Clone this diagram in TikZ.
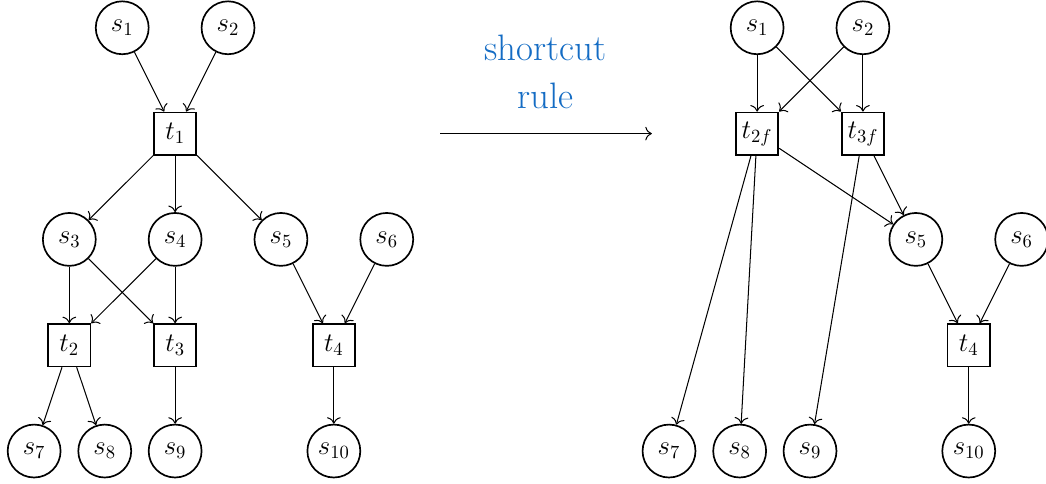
\documentclass[tikz,border=0pt]{standalone}
\usetikzlibrary{arrows.meta}
\definecolor{rulecol}{RGB}{20,108,196}
\begin{document}
\begin{tikzpicture}[
  place/.style={circle, draw, line width=0.9pt, minimum size=1cm, inner sep=0pt, font=\fontsize{14.4}{17}\selectfont},
  trans/.style={rectangle, draw, line width=0.9pt, minimum size=0.8cm, inner sep=1pt, font=\fontsize{14.4}{17}\selectfont},
  arc/.style={line width=0.55pt, -{Computer Modern Rightarrow[scale=1.25]}},
  rulelabel/.style={text=rulecol, align=center, inner sep=0pt, font=\fontsize{19.8}{25.6}\selectfont}
]
\useasboundingbox (0,0) rectangle (19.77,-9.13);

% ---- net before the rule ----
\node[place] (s1) at (2.31,-0.525) {$s_1$};
\node[place] (s2) at (4.31,-0.525) {$s_2$};
\node[trans] (t1) at (3.31,-2.525) {$t_1$};
\node[place] (s3) at (1.31,-4.525) {$s_3$};
\node[place] (s4) at (3.31,-4.525) {$s_4$};
\node[place] (s5) at (5.31,-4.525) {$s_5$};
\node[place] (s6) at (7.31,-4.525) {$s_6$};
\node[trans] (t2) at (1.31,-6.525) {$t_2$};
\node[trans] (t3) at (3.31,-6.525) {$t_3$};
\node[trans] (t4) at (6.31,-6.525) {$t_4$};
\node[place] (s7) at (0.645,-8.525) {$s_7$};
\node[place] (s8) at (1.98,-8.525) {$s_8$};
\node[place] (s9) at (3.31,-8.525) {$s_9$};
\node[place] (s10) at (6.31,-8.525) {$s_{10}$};

\draw[arc] (s1) -- (t1);
\draw[arc] (s2) -- (t1);
\draw[arc] (t1) -- (s3);
\draw[arc] (t1) -- (s4);
\draw[arc] (t1) -- (s5);
\draw[arc] (s3) -- (t2);
\draw[arc] (s3) -- (t3);
\draw[arc] (s4) -- (t2);
\draw[arc] (s4) -- (t3);
\draw[arc] (s5) -- (t4);
\draw[arc] (s6) -- (t4);
\draw[arc] (t2) -- (s7);
\draw[arc] (t2) -- (s8);
\draw[arc] (t3) -- (s9);
\draw[arc] (t4) -- (s10);

% ---- rule arrow ----
\coordinate (ra) at (8.32,-2.525);
\coordinate (rb) at (12.32,-2.525);
\draw[arc] (ra) -- (rb);
\node[rulelabel, anchor=north] (lbl) at (10.31,-0.66) {shortcut\\rule};

% ---- net after the rule ----
\node[place] (r1) at (14.31,-0.525) {$s_1$};
\node[place] (r2) at (16.31,-0.525) {$s_2$};
\node[trans] (r2f) at (14.31,-2.525) {$t_{2f}$};
\node[trans] (r3f) at (16.31,-2.525) {$t_{3f}$};
\node[place] (r5) at (17.31,-4.525) {$s_5$};
\node[place] (r6) at (19.31,-4.525) {$s_6$};
\node[trans] (r4) at (18.31,-6.525) {$t_4$};
\node[place] (r7) at (12.645,-8.525) {$s_7$};
\node[place] (r8) at (13.98,-8.525) {$s_8$};
\node[place] (r9) at (15.31,-8.525) {$s_9$};
\node[place] (r10) at (18.31,-8.525) {$s_{10}$};

\draw[arc] (r1) -- (r2f);
\draw[arc] (r1) -- (r3f);
\draw[arc] (r2) -- (r2f);
\draw[arc] (r2) -- (r3f);
\draw[arc] (r2f) -- (r5);
\draw[arc] (r3f) -- (r5);
\draw[arc] (r2f) -- (r7);
\draw[arc] (r2f) -- (r8);
\draw[arc] (r3f) -- (r9);
\draw[arc] (r5) -- (r4);
\draw[arc] (r6) -- (r4);
\draw[arc] (r4) -- (r10);
\end{tikzpicture}
\end{document}
